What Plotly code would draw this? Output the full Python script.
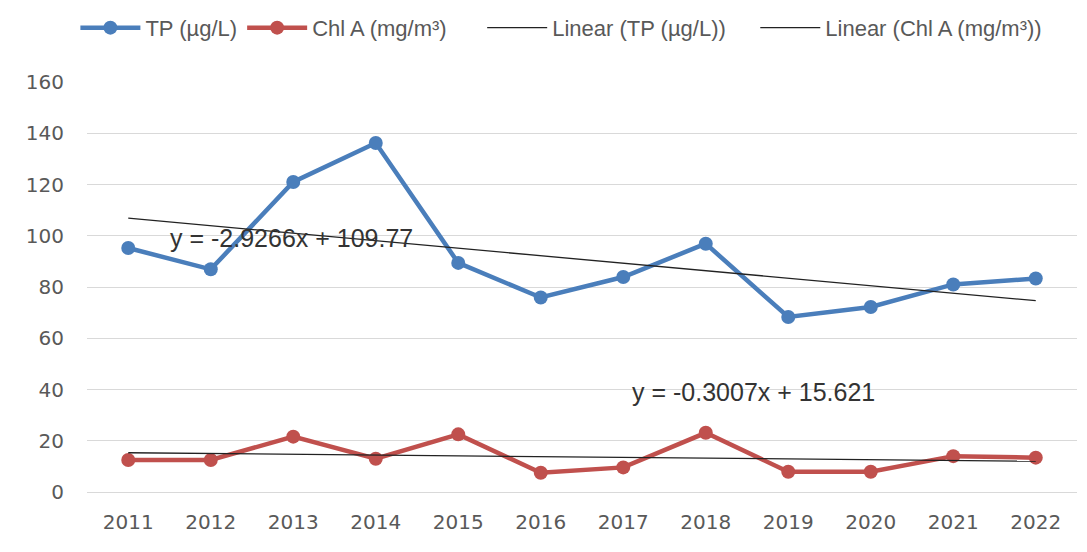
import plotly.graph_objects as go

years = ["2011", "2012", "2013", "2014", "2015", "2016", "2017", "2018", "2019", "2020", "2021", "2022"]
tp_values = [95.2, 86.9, 121.0, 136.2, 89.4, 75.9, 83.9, 96.9, 68.3, 72.2, 81.0, 83.3]
chl_values = [12.5, 12.5, 21.6, 13.0, 22.5, 7.5, 9.6, 23.1, 7.9, 7.9, 14.0, 13.4]

tp_slope, tp_intercept = -2.9266, 109.77
chl_slope, chl_intercept = -0.3007, 15.621

y_ticks = [0, 20, 40, 60, 80, 100, 120, 140, 160]

series_names = ["TP (µg/L)", "Chl A (mg/m³)", "Linear (TP (µg/L))", "Linear (Chl A (mg/m³))"]
# trailing non-breaking spaces reproduce the wider gaps between legend entries
legend_pad = [0, 5, 4, 0]

FONT = "Liberation Sans"
TICKFONT = "DejaVu Sans"
BLUE = "#4a7ebb"
RED = "#c0504d"

names = [n + "\u00a0" * p for n, p in zip(series_names, legend_pad)]

trend_x = [years[0], years[-1]]
tp_trend = [tp_slope * 1 + tp_intercept, tp_slope * len(years) + tp_intercept]
chl_trend = [chl_slope * 1 + chl_intercept, chl_slope * len(years) + chl_intercept]

fig = go.Figure()
fig.add_trace(go.Scatter(x=years, y=tp_values, mode="lines+markers", name=names[0],
                         line=dict(color=BLUE, width=4.5), marker=dict(size=14, color=BLUE)))
fig.add_trace(go.Scatter(x=years, y=chl_values, mode="lines+markers", name=names[1],
                         line=dict(color=RED, width=4.5), marker=dict(size=14, color=RED)))
fig.add_trace(go.Scatter(x=trend_x, y=tp_trend, mode="lines", name=names[2],
                         line=dict(color="#222222", width=1.3)))
fig.add_trace(go.Scatter(x=trend_x, y=chl_trend, mode="lines", name=names[3],
                         line=dict(color="#222222", width=1.3)))

fig.add_annotation(x=1.98, y=99.0, xref="x", yref="y", text=f"y = {tp_slope}x + {tp_intercept}",
                   showarrow=False, font=dict(family=FONT, size=25, color="#333333"))
fig.add_annotation(x=7.58, y=39.0, xref="x", yref="y", text=f"y = {chl_slope}x + {chl_intercept}",
                   showarrow=False, font=dict(family=FONT, size=25, color="#333333"))

fig.update_layout(
    width=1087, height=552,
    margin=dict(l=79, r=18, t=74, b=68),
    paper_bgcolor="white", plot_bgcolor="white",
    font=dict(family=FONT, color="#595959", size=20),
    showlegend=True,
    legend=dict(orientation="h", x=0.062, xanchor="left", y=0.964, yref="container", yanchor="middle",
                xref="container",
                font=dict(family=FONT, size=22, color="#595959"), itemwidth=60),
    xaxis=dict(type="category", showgrid=False, showline=False, ticks="",
               tickfont=dict(family=TICKFONT, size=20, color="#595959"), range=[-0.5, 11.5],
               ticklabelstandoff=16),
    yaxis=dict(range=[0, 160], tickvals=y_ticks, showgrid=True, gridcolor="#d9d9d9", gridwidth=1,
               zeroline=True, zerolinecolor="#d9d9d9", zerolinewidth=1,
               tickfont=dict(family=TICKFONT, size=20, color="#595959"), ticks="", ticklen=0,
               ticklabelstandoff=22),
)

fig.write_html("out.html")
